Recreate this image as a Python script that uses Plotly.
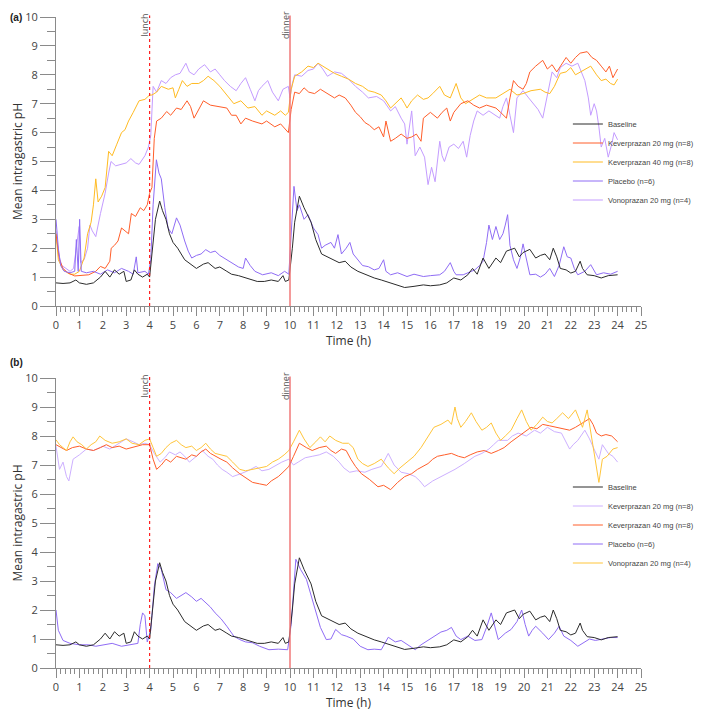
import plotly.graph_objects as go

# ---------------- data (hours, mean intragastric pH) ----------------
baseline_t = [0.0, 0.3, 0.6, 0.85, 1.0, 1.3, 1.6, 1.9, 2.1, 2.3, 2.5, 2.7, 2.9, 3.0, 3.2, 3.35, 3.5, 3.7, 3.9, 4.0,
              4.1, 4.25, 4.43, 4.55, 4.7, 4.85, 5.0, 5.2, 5.5, 5.8, 6.0, 6.3, 6.5, 6.8, 7.0, 7.3, 7.5, 7.8, 8.0, 8.3,
              8.6, 8.9, 9.2, 9.5, 9.7, 9.8, 9.95, 10.1, 10.2, 10.4, 10.6, 10.9, 11.1, 11.35, 11.6, 11.9, 12.1, 12.36,
              12.6, 12.9, 13.2, 13.6, 13.9, 14.3, 14.6, 14.9, 15.3, 15.7, 16.0, 16.4, 16.7, 17.0, 17.3, 17.6, 17.8,
              18.0, 18.25, 18.5, 18.8, 19.0, 19.25, 19.6, 19.8, 19.96, 20.25, 20.5, 20.7, 20.9, 21.1, 21.25, 21.4,
              21.55, 21.8, 22.0, 22.2, 22.4, 22.5, 22.7, 23.0, 23.3, 23.6, 24.0]
baseline_ph = [0.8, 0.78, 0.8, 0.9, 0.8, 0.75, 0.8, 1.0, 1.2, 1.0, 1.25, 1.1, 1.2, 0.85, 0.9, 1.25, 1.1, 1.0, 1.1, 1.0,
               1.8, 3.0, 3.63, 3.3, 3.0, 2.5, 2.2, 2.0, 1.6, 1.4, 1.3, 1.45, 1.5, 1.3, 1.35, 1.2, 1.1, 1.05, 1.0, 0.95,
               0.85, 0.85, 0.9, 0.85, 1.05, 0.85, 0.9, 2.0, 2.9, 3.8, 3.4, 2.9, 2.3, 1.8, 1.7, 1.6, 1.5, 1.55,
               1.35, 1.2, 1.1, 0.97, 0.9, 0.8, 0.7, 0.64, 0.68, 0.73, 0.7, 0.73, 0.8, 0.97, 0.9, 1.08, 1.3,
               1.1, 1.66, 1.3, 1.66, 1.5, 1.9, 2.0, 1.7, 1.85, 1.96, 1.66, 1.75, 1.8, 1.6, 2.0, 1.7,
               1.3, 1.25, 1.14, 1.2, 1.55, 1.3, 1.08, 1.05, 0.97, 1.05, 1.08]

# Panel (a)
a_placebo_t = [0.0, 0.1, 0.2, 0.35, 0.6, 0.8, 0.87, 0.95, 1.01, 1.08, 1.3, 1.6, 1.9, 2.2, 2.5, 2.8, 3.1, 3.3, 3.43, 3.5,
               3.8, 3.95, 4.05, 4.15, 4.29, 4.4, 4.5, 4.65, 4.79, 4.95, 5.15, 5.3, 5.5, 5.65, 5.8, 6.0, 6.2, 6.4, 6.6,
               6.8, 7.0, 7.3, 7.5, 7.8, 8.0, 8.1, 8.3, 8.5, 8.83, 9.2, 9.5, 9.77, 9.95, 10.05, 10.17, 10.3, 10.4, 10.6,
               10.77, 11.0, 11.2, 11.35, 11.5, 11.75, 11.9, 12.05, 12.2, 12.4, 12.56, 12.7, 12.9, 13.1, 13.35, 13.6,
               13.8, 14.0, 14.1, 14.3, 14.6, 15.0, 15.3, 15.7, 16.0, 16.4, 16.6, 16.85, 17.0, 17.1, 17.4, 17.6, 17.9,
               18.1, 18.25, 18.4, 18.5, 18.65, 18.8, 18.96, 19.1, 19.2, 19.3, 19.4, 19.55, 19.7, 19.85, 19.96, 20.1,
               20.25, 20.5, 20.7, 20.9, 21.1, 21.3, 21.5, 21.7, 21.85, 22.0, 22.15, 22.3, 22.6, 22.85, 23.1, 23.4,
               23.7, 24.0]
a_placebo_ph = [3.0, 2.0, 1.4, 1.2, 1.15, 1.2, 2.3, 1.2, 3.0, 1.2, 1.15, 1.2, 1.1, 1.25, 1.15, 1.3, 1.2, 1.1, 1.7, 1.15,
                1.2, 1.1, 1.6, 3.5, 5.06, 4.6, 4.4, 3.4, 2.7, 2.5, 3.05, 2.8, 2.25, 1.9, 1.66, 1.75, 1.8, 1.95, 1.85,
                1.9, 1.75, 1.6, 1.5, 1.35, 1.3, 1.66, 1.4, 1.2, 1.08, 1.15, 1.05, 1.2, 1.1, 2.5, 4.14, 3.3, 3.5, 3.0,
                3.16, 2.7, 2.47, 2.0, 2.1, 2.2, 2.0, 2.47, 1.8, 2.0, 2.2, 1.8, 1.6, 1.4, 1.36, 1.25,
                1.3, 1.6, 1.2, 1.08, 1.15, 1.02, 1.1, 1.02, 1.05, 1.08, 1.2, 1.5, 1.2, 1.08, 1.08, 1.14, 1.25,
                1.4, 1.55, 2.2, 2.8, 2.3, 2.75, 2.3, 2.5, 2.8, 3.16, 2.1, 1.6, 1.3, 1.7, 2.15, 1.6,
                1.08, 1.1, 1.0, 1.1, 1.3, 1.02, 1.4, 2.05, 1.7, 1.66, 1.3, 1.08, 1.2, 1.43, 1.08, 1.15,
                1.1, 1.2]

a_kev20_t = [0.0, 0.15, 0.3, 0.5, 0.8, 1.1, 1.4, 1.7, 1.9, 2.1, 2.3, 2.36, 2.5, 2.65, 2.8, 2.95, 3.1, 3.22, 3.4, 3.6,
             3.75, 3.9, 4.0, 4.1, 4.2, 4.3, 4.5, 4.73, 4.9, 5.15, 5.35, 5.6, 5.75, 5.9, 6.1, 6.3, 6.6, 7.0, 7.3, 7.5,
             7.7, 7.9, 8.1, 8.4, 8.6, 8.8, 9.0, 9.35, 9.6, 9.8, 9.93, 10.05, 10.2, 10.4, 10.6, 10.8, 11.05, 11.3, 11.5,
             11.7, 11.9, 12.1, 12.36, 12.6, 12.8, 13.0, 13.2, 13.4, 13.6, 13.8, 14.0, 14.1, 14.2, 14.3, 14.5, 14.75,
             15.0, 15.2, 15.4, 15.6, 15.7, 15.85, 16.0, 16.15, 16.3, 16.5, 16.7, 16.85, 17.0, 17.3, 17.6, 17.85,
             18.1, 18.4, 18.8, 19.0, 19.25, 19.4, 19.55, 19.75, 19.96, 20.1, 20.25, 20.5, 20.8, 21.0, 21.2, 21.4,
             21.6, 21.8, 22.0, 22.2, 22.4, 22.7, 22.9, 23.1, 23.3, 23.5, 23.65, 23.8, 23.9, 24.0]
a_kev20_ph = [2.5, 1.6, 1.3, 1.15, 1.04, 1.05, 1.08, 1.2, 1.37, 1.3, 1.55, 2.0, 2.1, 2.25, 2.7, 2.6, 2.5, 3.2, 3.1, 3.4,
              3.3, 3.5, 3.9, 4.1, 5.8, 6.4, 6.5, 6.73, 6.6, 6.85, 6.8, 7.1, 6.9, 6.5, 6.8, 7.1, 6.95, 6.9, 6.85, 6.6,
              6.6, 6.3, 6.5, 6.4, 6.35, 6.3, 6.4, 6.2, 6.3, 6.1, 6.0, 6.8, 7.4, 7.35, 7.55, 7.4, 7.35, 7.5, 7.4,
              7.3, 7.2, 7.3, 7.2, 6.95, 6.7, 6.55, 6.35, 6.25, 6.1, 6.2, 5.85, 6.4, 6.0, 5.7, 5.8, 5.95,
              5.8, 5.85, 5.95, 5.7, 6.5, 6.6, 6.7, 6.6, 6.5, 6.7, 6.85, 6.4, 6.7, 7.0, 7.1, 6.95,
              6.85, 6.95, 6.85, 6.7, 6.5, 7.2, 7.8, 7.6, 7.5, 7.7, 8.1, 8.3, 8.5, 8.2, 8.35, 8.1,
              8.35, 8.6, 8.4, 8.6, 8.75, 8.8, 8.6, 8.5, 8.3, 8.1, 8.3, 7.9, 8.05, 8.2]

a_kev40_t = [0.0, 0.1, 0.3, 0.6, 0.8, 1.0, 1.2, 1.35, 1.5, 1.6, 1.7, 1.8, 1.95, 2.1, 2.25, 2.4, 2.6, 2.8, 2.95, 3.1,
             3.3, 3.55, 3.8, 4.0, 4.1, 4.3, 4.5, 4.8, 5.0, 5.1, 5.25, 5.4, 5.6, 5.8, 6.1, 6.3, 6.5, 6.75, 7.0, 7.2,
             7.4, 7.6, 7.9, 8.2, 8.5, 8.8, 9.0, 9.35, 9.6, 9.8, 9.93, 10.05, 10.2, 10.5, 10.77, 11.0, 11.2, 11.4,
             11.6, 11.9, 12.2, 12.5, 12.8, 13.1, 13.35, 13.6, 13.9, 14.1, 14.3, 14.5, 14.75, 14.9, 15.0, 15.2, 15.45,
             15.7, 15.9, 16.1, 16.4, 16.6, 16.85, 17.1, 17.3, 17.5, 17.8, 18.1, 18.4, 18.8, 19.1, 19.4, 19.7, 19.96,
             20.3, 20.7, 20.9, 21.1, 21.3, 21.55, 21.8, 22.0, 22.2, 22.4, 22.6, 22.85, 23.1, 23.3, 23.5, 23.7,
             23.85, 24.0]
a_kev40_ph = [2.5, 1.6, 1.25, 1.1, 1.1, 1.2, 1.66, 2.5, 2.9, 3.5, 4.4, 3.6, 3.8, 4.1, 5.35, 5.2, 5.6, 6.0, 6.1, 6.4,
              6.7, 7.1, 7.15, 7.3, 7.3, 7.4, 7.6, 7.5, 7.55, 7.2, 7.5, 7.8, 7.6, 7.7, 7.7, 7.8, 7.95, 7.8, 7.6, 7.4,
              7.2, 7.0, 7.1, 6.85, 6.9, 6.6, 6.75, 6.6, 6.75, 6.6, 6.7, 7.5, 7.95, 8.1, 8.3, 8.25, 8.4, 8.3,
              8.2, 8.05, 7.95, 7.85, 7.7, 7.6, 7.45, 7.4, 7.3, 7.1, 6.85, 7.0, 7.2, 7.0, 6.85, 7.1, 7.3,
              7.15, 7.2, 7.35, 7.6, 7.3, 7.2, 7.7, 7.2, 7.0, 7.15, 7.3, 7.2, 7.2, 7.35, 7.5, 7.3, 7.35,
              7.45, 7.5, 7.4, 7.35, 7.6, 8.05, 8.1, 8.25, 8.0, 8.1, 8.2, 8.3, 8.0, 7.8, 7.85, 7.7,
              7.65, 7.85]

a_vono_t = [0.0, 0.1, 0.25, 0.4, 0.6, 0.75, 0.9, 0.99, 1.05, 1.2, 1.35, 1.45, 1.55, 1.7, 1.9, 2.1, 2.25, 2.35, 2.55,
            2.8, 3.0, 3.2, 3.4, 3.55, 3.7, 3.8, 3.95, 4.05, 4.15, 4.3, 4.5, 4.7, 4.9, 5.1, 5.3, 5.55, 5.7, 5.9, 6.1,
            6.35, 6.6, 6.8, 7.0, 7.2, 7.45, 7.7, 7.9, 8.1, 8.3, 8.5, 8.65, 8.8, 9.05, 9.25, 9.5, 9.7, 9.93, 10.0,
            10.1, 10.2, 10.5, 10.77, 11.0, 11.2, 11.4, 11.6, 11.9, 12.2, 12.5, 12.8, 13.1, 13.35, 13.7, 14.0, 14.3,
            14.5, 14.75, 14.9, 15.0, 15.1, 15.2, 15.35, 15.55, 15.75, 15.9, 16.05, 16.2, 16.4, 16.5, 16.6, 16.8,
            17.0, 17.2, 17.4, 17.55, 17.7, 17.85, 18.0, 18.25, 18.5, 18.75, 18.96, 19.1, 19.25, 19.4, 19.55, 19.7,
            19.96, 20.2, 20.4, 20.6, 20.8, 21.0, 21.2, 21.4, 21.55, 21.8, 22.05, 22.3, 22.45, 22.6, 22.75, 22.85,
            23.0, 23.1, 23.2, 23.3, 23.45, 23.6, 23.75, 23.85, 24.0]
a_vono_ph = [2.6, 1.8, 1.4, 1.3, 1.2, 1.3, 2.2, 2.75, 1.5, 1.6, 2.0, 2.8, 2.6, 2.4, 3.2, 3.9, 4.6, 5.0, 4.85,
             4.9, 4.95, 5.1, 4.95, 4.9, 5.1, 5.2, 5.5, 5.9, 7.6, 7.4, 7.8, 7.7, 7.9, 8.0, 8.05, 8.4, 8.1, 8.0, 8.2,
             8.35, 8.1, 8.2, 8.0, 7.8, 7.6, 7.45, 7.7, 7.9, 7.5, 7.1, 7.45, 7.6, 7.8, 7.4, 7.1, 7.5, 7.6, 7.2,
             7.7, 8.0, 7.95, 8.15, 8.2, 8.4, 8.2, 7.95, 8.1, 8.05, 7.85, 7.6, 7.4, 7.2, 7.25, 7.1, 6.75,
             6.9, 6.5, 6.3, 5.6, 6.2, 6.75, 5.2, 5.5, 5.15, 4.2, 4.8, 4.3, 5.7, 5.2, 5.0, 5.5,
             5.6, 5.45, 5.7, 5.15, 5.9, 6.4, 6.75, 6.6, 6.75, 6.6, 6.5, 6.9, 7.2, 6.6, 6.0, 7.2,
             7.45, 7.2, 7.0, 6.8, 6.5, 7.3, 8.1, 7.9, 8.25, 8.4, 8.3, 8.4, 8.1, 7.8, 7.2, 6.6,
             7.0, 6.75, 6.2, 5.5, 5.8, 5.15, 5.6, 6.0, 5.75]

# Panel (b)
b_placebo_t = [0.0, 0.1, 0.3, 0.6, 1.0, 1.4, 1.7, 2.0, 2.4, 2.8, 3.2, 3.5, 3.6, 3.7, 3.8, 3.9, 4.05, 4.2, 4.35, 4.5,
               4.7, 4.9, 5.15, 5.35, 5.55, 5.8, 6.0, 6.2, 6.4, 6.6, 6.8, 7.05, 7.3, 7.6, 7.85, 8.1, 8.4, 8.7, 9.1,
               9.5, 9.9, 10.05, 10.25, 10.45, 10.7, 10.9, 11.1, 11.3, 11.55, 11.75, 11.95, 12.2, 12.4, 12.7, 13.0,
               13.33, 13.6, 13.9, 14.2, 14.5, 14.75, 15.05, 15.35, 15.6, 15.9, 16.2, 16.45, 16.7, 16.9, 17.1, 17.3,
               17.6, 17.9, 18.2, 18.4, 18.6, 18.75, 18.9, 19.2, 19.45, 19.7, 19.9, 20.05, 20.2, 20.35, 20.5, 20.8,
               21.05, 21.3, 21.5, 21.7, 22.0, 22.3, 22.6, 22.8, 23.05, 23.4, 23.7, 24.0]
b_placebo_ph = [2.0, 1.3, 0.95, 0.85, 0.8, 0.8, 0.75, 0.8, 0.85, 0.75, 0.8, 0.85, 1.5, 1.9, 1.8, 0.9, 1.3, 2.8, 3.6, 3.4,
                2.7, 2.6, 2.4, 2.5, 2.6, 2.45, 2.3, 2.4, 2.25, 2.1, 1.9, 1.7, 1.44, 1.1, 0.98, 0.9, 0.87, 0.75, 0.63,
                0.65, 0.63, 1.5, 3.75, 3.4, 3.06, 2.5, 1.9, 1.4, 0.98, 1.0, 1.33, 1.15, 1.1, 1.0, 0.75,
                0.63, 0.65, 0.63, 1.06, 0.9, 0.95, 0.8, 0.63, 0.8, 0.95, 1.1, 1.24, 1.3, 1.4, 1.1, 0.98,
                1.1, 0.95, 0.98, 1.4, 1.9, 1.4, 0.98, 1.2, 1.33, 1.6, 2.0, 1.5, 1.1, 1.3, 1.44, 1.2,
                0.98, 1.2, 1.44, 1.1, 0.95, 0.75, 0.9, 1.0, 0.95, 1.0, 1.05, 1.05]

b_kev20_t = [0.0, 0.08, 0.15, 0.3, 0.45, 0.55, 0.65, 0.73, 1.0, 1.3, 1.6, 2.0, 2.3, 2.7, 3.0, 3.3, 3.55, 3.8, 4.0, 4.2,
             4.45, 4.65, 4.85, 5.1, 5.3, 5.5, 5.7, 6.0, 6.25, 6.5, 6.7, 6.9, 7.1, 7.3, 7.55, 7.9, 8.2, 8.55, 8.8, 9.1,
             9.4, 9.65, 9.95, 10.15, 10.35, 10.65, 10.95, 11.25, 11.55, 11.85, 12.1, 12.3, 12.55, 12.85, 13.2, 13.5,
             13.9, 14.05, 14.2, 14.45, 14.75, 15.05, 15.35, 15.55, 15.75, 16.1, 16.45, 16.75, 17.05, 17.45, 17.9,
             18.2, 18.5, 18.7, 18.9, 19.3, 19.5, 19.75, 20.1, 20.45, 20.7, 21.0, 21.3, 21.6, 21.8, 21.95, 22.1, 22.3,
             22.6, 22.8, 23.05, 23.2, 23.35, 23.6, 23.8, 24.0]
b_kev20_ph = [7.65, 7.2, 6.85, 7.1, 6.6, 6.45, 6.9, 7.2, 7.35, 7.55, 7.5, 7.65, 7.55, 7.75, 7.9, 7.8, 7.7, 7.75, 7.7, 7.4,
              7.1, 7.25, 7.45, 7.35, 7.45, 7.3, 7.1, 7.3, 7.5, 7.3, 7.2, 7.0, 6.85, 6.75, 6.6, 6.7, 6.8, 6.95, 6.8, 6.85,
              7.0, 7.1, 7.2, 7.0, 7.1, 7.25, 7.3, 7.35, 7.45, 7.3, 7.1, 6.9, 6.75, 6.8, 6.75, 6.85,
              6.95, 7.2, 7.4, 7.0, 6.75, 6.7, 6.6, 6.45, 6.25, 6.45, 6.6, 6.7, 6.85, 7.05, 7.3,
              7.4, 7.55, 7.7, 7.85, 7.85, 8.0, 8.1, 8.0, 8.2, 8.1, 8.3, 8.15, 8.1, 7.8, 7.55, 7.7, 7.85,
              8.2, 7.9, 7.45, 7.2, 7.7, 7.4, 7.3, 7.1]

b_kev40_t = [0.0, 0.2, 0.45, 0.7, 1.0, 1.3, 1.6, 1.9, 2.15, 2.4, 2.7, 3.0, 3.4, 3.7, 4.0, 4.15, 4.3, 4.5, 4.7, 4.9,
             5.15, 5.35, 5.55, 5.8, 6.0, 6.2, 6.4, 6.6, 6.8, 7.05, 7.3, 7.55, 7.85, 8.1, 8.4, 8.7, 9.0, 9.2, 9.5, 9.7,
             9.95, 10.15, 10.4, 10.7, 10.95, 11.25, 11.55, 11.75, 11.95, 12.2, 12.4, 12.6, 12.8, 13.05, 13.4, 13.76,
             14.0, 14.3, 14.6, 14.9, 15.2, 15.45, 15.7, 15.9, 16.1, 16.3, 16.6, 16.9, 17.2, 17.45, 17.7, 18.0, 18.3,
             18.6, 18.9, 19.15, 19.45, 19.7, 20.0, 20.3, 20.55, 20.8, 21.1, 21.4, 21.7, 21.95, 22.2, 22.4, 22.6, 22.8,
             22.95, 23.1, 23.3, 23.5, 23.75, 24.0]
b_kev40_ph = [7.7, 7.6, 7.5, 7.6, 7.65, 7.55, 7.5, 7.6, 7.7, 7.6, 7.65, 7.55, 7.65, 7.7, 7.7, 7.2, 6.85, 7.0, 7.2, 7.1,
              7.3, 7.25, 7.2, 7.35, 7.3, 7.45, 7.55, 7.4, 7.3, 7.2, 7.1, 6.9, 6.7, 6.55, 6.4, 6.35, 6.3, 6.45, 6.6, 6.75,
              6.95, 7.3, 7.75, 7.6, 7.5, 7.6, 7.65, 7.5, 7.4, 7.55, 7.5, 7.2, 6.95, 6.7, 6.5, 6.25,
              6.3, 6.15, 6.4, 6.6, 6.7, 6.85, 6.95, 7.05, 7.2, 7.3, 7.35, 7.4, 7.3, 7.25, 7.35, 7.45, 7.5,
              7.4, 7.5, 7.6, 7.8, 7.95, 8.1, 8.3, 8.25, 8.4, 8.35, 8.3, 8.25, 8.2, 8.3, 8.4, 8.5, 8.6,
              8.4, 8.1, 8.0, 8.05, 8.0, 7.8]

b_vono_t = [0.0, 0.15, 0.3, 0.45, 0.6, 0.73, 0.9, 1.1, 1.3, 1.5, 1.7, 1.87, 2.1, 2.4, 2.7, 3.0, 3.25, 3.55, 3.8, 4.0,
            4.15, 4.3, 4.5, 4.7, 4.9, 5.15, 5.35, 5.55, 5.8, 6.0, 6.2, 6.4, 6.6, 6.8, 7.05, 7.3, 7.55, 7.85, 8.1, 8.4,
            8.7, 9.0, 9.25, 9.5, 9.75, 9.95, 10.15, 10.4, 10.6, 10.85, 11.1, 11.3, 11.5, 11.7, 11.95, 12.25, 12.5,
            12.7, 12.9, 13.1, 13.33, 13.6, 13.9, 14.2, 14.45, 14.7, 15.0, 15.3, 15.6, 15.9, 16.15, 16.45, 16.75,
            16.9, 17.05, 17.15, 17.3, 17.5, 17.75, 17.95, 18.2, 18.4, 18.6, 18.8, 19.0, 19.2, 19.45, 19.7, 19.9,
            20.1, 20.3, 20.55, 20.8, 21.0, 21.2, 21.4, 21.65, 21.9, 22.2, 22.35, 22.5, 22.7, 22.8, 22.9, 23.05,
            23.2, 23.35, 23.55, 23.8, 24.0]
b_vono_ph = [7.87, 7.7, 7.6, 7.5, 7.8, 7.97, 7.8, 7.7, 7.55, 7.7, 7.8, 8.0, 7.85, 7.75, 7.8, 7.9, 7.75, 7.7, 7.85, 7.9,
             7.6, 7.3, 7.4, 7.6, 7.75, 7.85, 7.7, 7.6, 7.65, 7.5, 7.6, 7.75, 7.55, 7.4, 7.35, 7.3, 7.1, 6.85, 6.8, 6.85,
             6.9, 6.95, 7.1, 7.2, 7.35, 7.5, 7.8, 8.2, 7.9, 7.6, 7.8, 7.97, 7.8, 8.0, 7.85, 7.75, 7.75,
             7.6, 7.2, 7.05, 6.95, 7.05, 7.2, 6.9, 6.7, 6.9, 7.1, 7.3, 7.6, 7.97, 8.3, 8.4, 8.55,
             8.4, 9.0, 8.6, 8.3, 8.5, 8.8, 8.5, 8.2, 8.3, 8.45, 8.1, 7.85, 8.0, 8.2, 8.6, 8.9,
             8.5, 8.2, 8.4, 8.65, 8.5, 8.45, 8.6, 8.8, 8.6, 8.9, 8.6, 8.3, 8.9, 8.4, 7.75, 7.0,
             6.4, 7.2, 7.3, 7.55, 7.6]

x_ticks = list(range(0, 26))
y_ticks = list(range(0, 11))
meal_times = [4, 10]
meal_labels = ["lunch", "dinner"]

# ---------------- colours ----------------
C_BASE = "#2b2b2b"
C_ORANGE = "#ff5e2a"
C_YELLOW = "#ffbb22"
C_PURPLE = "#8f6cf5"
C_LAV = "#c49cff"
C_LAV_B = "#cdb0ff"
C_YEL_B = "#ffc53a"

fig = go.Figure()


def add(t, v, name, color, xa, ya, legend, rank):
    fig.add_trace(go.Scatter(x=t, y=v, mode="lines", name=name,
                             line=dict(color=color, width=1), xaxis=xa, yaxis=ya,
                             legend=legend, legendrank=rank, hoverinfo="skip"))


# panel a
add(a_vono_t, a_vono_ph, "Vonoprazan 20 mg (n=4)", C_LAV, "x", "y", "legend", 5)
add(a_kev40_t, a_kev40_ph, "Keverprazan 40 mg (n=8)", C_YELLOW, "x", "y", "legend", 3)
add(a_kev20_t, a_kev20_ph, "Keverprazan 20 mg (n=8)", C_ORANGE, "x", "y", "legend", 2)
add(a_placebo_t, a_placebo_ph, "Placebo (n=6)", C_PURPLE, "x", "y", "legend", 4)
add(baseline_t, baseline_ph, "Baseline", C_BASE, "x", "y", "legend", 1)
# panel b
add(b_kev20_t, b_kev20_ph, "Keverprazan 20 mg (n=8)", C_LAV_B, "x2", "y2", "legend2", 2)
add(b_kev40_t, b_kev40_ph, "Keverprazan 40 mg (n=8)", C_ORANGE, "x2", "y2", "legend2", 3)
add(b_vono_t, b_vono_ph, "Vonoprazan 20 mg (n=4)", C_YEL_B, "x2", "y2", "legend2", 5)
add(b_placebo_t, b_placebo_ph, "Placebo (n=6)", C_PURPLE, "x2", "y2", "legend2", 4)
add(baseline_t, baseline_ph, "Baseline", C_BASE, "x2", "y2", "legend2", 1)

AX = "#8a8a8a"
TICKF = dict(family="Open Sans, Arial, sans-serif", size=11, color="#444")


def xaxis_def(anchor):
    return dict(domain=[0, 1], anchor=anchor, range=[0, 25], tickmode="array", tickvals=x_ticks,
                ticks="outside", ticklen=9, tickcolor=AX, tickwidth=1,
                minor=dict(dtick=0.2, ticks="outside", ticklen=5, tickcolor=AX, tickwidth=1),
                showline=True, linecolor=AX, linewidth=1, showgrid=False, zeroline=False,
                tickfont=TICKF, automargin=False,
                title=dict(text="Time (h)", font=dict(family="Open Sans, Arial, sans-serif", size=12, color="#333"),
                           standoff=4))


def yaxis_def(anchor, domain):
    return dict(domain=domain, anchor=anchor, range=[0, 10], tickmode="array", tickvals=y_ticks,
                ticks="outside", ticklen=15, tickcolor=AX, tickwidth=1, ticklabelstandoff=0,
                minor=dict(dtick=0.5, ticks="outside", ticklen=8, tickcolor=AX, tickwidth=1),
                showline=True, linecolor=AX, linewidth=1, showgrid=False, zeroline=False,
                tickfont=TICKF, automargin=False,
                title=dict(text="Mean intragastric pH",
                           font=dict(family="Open Sans, Arial, sans-serif", size=12, color="#333"),
                           standoff=0))


shapes = []
annotations = []
for xr, yr in (("x", "y"), ("x2", "y2")):
    for mt, lab in zip(meal_times, meal_labels):
        dinner = lab == "dinner"
        shapes.append(dict(type="line", xref=xr, yref=yr + " domain", x0=mt, x1=mt, y0=0, y1=1.005,
                           line=dict(color="#f07878" if dinner else "#ff2020",
                                     width=1.5 if dinner else 1.2,
                                     dash="solid" if dinner else "dot")))
        annotations.append(dict(text=lab, xref=xr, yref=yr + " domain", x=mt - 0.22, y=0.972,
                                xanchor="center", yanchor="middle", textangle=-90, showarrow=False,
                                font=dict(family="Open Sans, Arial, sans-serif", size=9, color="#555")))

annotations.append(dict(text="<b>(a)</b>", xref="paper", yref="paper", x=-0.082, y=1.0,
                        xanchor="left", yanchor="middle", showarrow=False,
                        font=dict(family="Arial, sans-serif", size=10, color="#222")))
annotations.append(dict(text="<b>(b)</b>", xref="paper", yref="paper", x=-0.082, y=(660 - 354) / 651,
                        xanchor="left", yanchor="middle", showarrow=False,
                        font=dict(family="Arial, sans-serif", size=10, color="#222")))

LEGF = dict(family="Arial, Liberation Sans, sans-serif", size=7.5, color="#444")
fig.update_layout(
    width=709, height=710,
    margin=dict(l=48, r=76, t=9, b=50, autoexpand=False),
    paper_bgcolor="white", plot_bgcolor="white",
    xaxis=xaxis_def("y"),
    yaxis=yaxis_def("x", [(660 - 298) / 651, 1]),
    xaxis2=xaxis_def("y2"),
    yaxis2=yaxis_def("x2", [0, (660 - 370) / 651]),
    shapes=shapes, annotations=annotations,
    legend=dict(x=0.875, y=(660 - 154) / 651, xanchor="left", yanchor="middle",
                bgcolor="rgba(0,0,0,0)", font=LEGF, itemwidth=30, tracegroupgap=0),
    legend2=dict(x=0.875, y=(660 - 517) / 651, xanchor="left", yanchor="middle",
                 bgcolor="rgba(0,0,0,0)", font=LEGF, itemwidth=30, tracegroupgap=0),
    showlegend=True,
)

fig.write_html("out.html")
